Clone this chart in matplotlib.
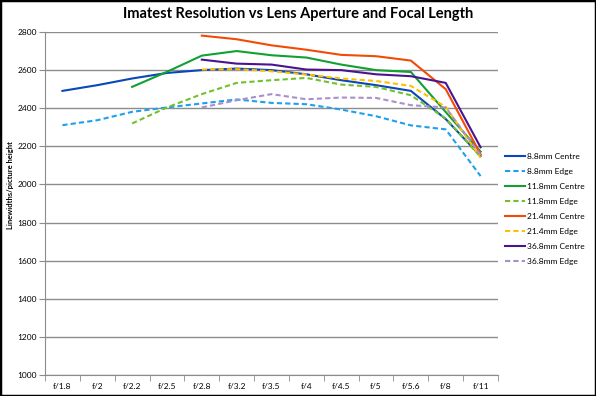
import numpy as np
import matplotlib.pyplot as plt
from matplotlib.patches import Rectangle

plt.rcParams['font.family'] = ['Lato', 'DejaVu Sans']

# Data
apertures = ['f/1.8', 'f/2', 'f/2.2', 'f/2.5', 'f/2.8', 'f/3.2', 'f/3.5',
             'f/4', 'f/4.5', 'f/5', 'f/5.6', 'f/8', 'f/11']
nan = np.nan
c88 = [2491, 2521, 2556, 2585, 2600, 2608, 2600, 2578, 2547, 2521, 2491, 2343, 2149]
e88 = [2311, 2337, 2381, 2404, 2425, 2446, 2428, 2421, 2393, 2358, 2310, 2289, 2044]
c118 = [nan, nan, 2512, 2591, 2676, 2700, 2678, 2666, 2629, 2600, 2590, 2380, 2172]
e118 = [nan, nan, 2320, 2404, 2474, 2533, 2547, 2559, 2524, 2512, 2468, 2346, 2145]
c214 = [nan, nan, nan, nan, 2781, 2762, 2730, 2707, 2680, 2673, 2650, 2500, 2158]
e214 = [nan, nan, nan, nan, 2603, 2605, 2594, 2577, 2556, 2543, 2517, 2407, 2140]
c368 = [nan, nan, nan, nan, 2655, 2634, 2629, 2603, 2600, 2578, 2568, 2533, 2195]
e368 = [nan, nan, nan, nan, 2404, 2442, 2474, 2447, 2456, 2454, 2416, 2404, 2154]

series = [
    ('8.8mm Centre', c88, '#0a47b8', '-'),
    ('8.8mm Edge', e88, '#1ea0ee', '--'),
    ('11.8mm Centre', c118, '#12a032', '-'),
    ('11.8mm Edge', e118, '#72c02c', '--'),
    ('21.4mm Centre', c214, '#f24b05', '-'),
    ('21.4mm Edge', e214, '#ffbf00', '--'),
    ('36.8mm Centre', c368, '#4a1490', '-'),
    ('36.8mm Edge', e368, '#a990c9', '--'),
]

fig = plt.figure(figsize=(5.96, 3.96), dpi=100)
ax = fig.add_axes([45 / 596, 21 / 396, 453 / 596, 343 / 396])

x = np.arange(len(apertures))
for label, vals, color, ls in series:
    if ls == '--':
        ax.plot(x, vals, color=color, lw=1.5, dashes=(2.5, 1.5), label=label)
    else:
        ax.plot(x, vals, color=color, lw=1.5, label=label)

ax.set_xlim(-0.5, len(apertures) - 0.5)
ax.set_ylim(1000, 2800)
ax.set_yticks(np.arange(1000, 2801, 200))
ax.set_xticks(x)
ax.set_xticklabels(apertures)
ax.set_xticks(np.arange(-0.5, len(apertures), 1), minor=True)
ax.tick_params(axis='x', which='major', length=0, labelsize=6, pad=6)
ax.tick_params(axis='x', which='minor', length=4, color='#8c8c8c')
ax.tick_params(axis='y', length=4, color='#8c8c8c', labelsize=6, pad=2)
ax.grid(axis='y', color='#8c8c8c', lw=1)
ax.set_axisbelow(True)
for s in ['top', 'right']:
    ax.spines[s].set_visible(False)
for s in ['left', 'bottom']:
    ax.spines[s].set_color('#8c8c8c')

fig.text(298 / 596, 1 - 14 / 396, 'Imatest Resolution vs Lens Aperture and Focal Length',
         ha='center', va='center', fontsize=10.5, fontweight='bold')
fig.text(11 / 596, 1 - 185 / 396, 'Linewidths/picture height', rotation=90,
         ha='center', va='center', fontsize=5.5, fontweight='bold')

ax.legend(loc='center left', bbox_to_anchor=(503 / 596, 1 - 209 / 396),
          bbox_transform=fig.transFigure, frameon=False, fontsize=6,
          labelspacing=0.95, handlelength=2.4, handletextpad=0.25,
          borderpad=0.2, borderaxespad=0)

fig.patches.append(Rectangle((0, 0), 1, 1, transform=fig.transFigure,
                             fill=False, edgecolor='black', lw=2.5))

fig.savefig('out.png', dpi=100)
